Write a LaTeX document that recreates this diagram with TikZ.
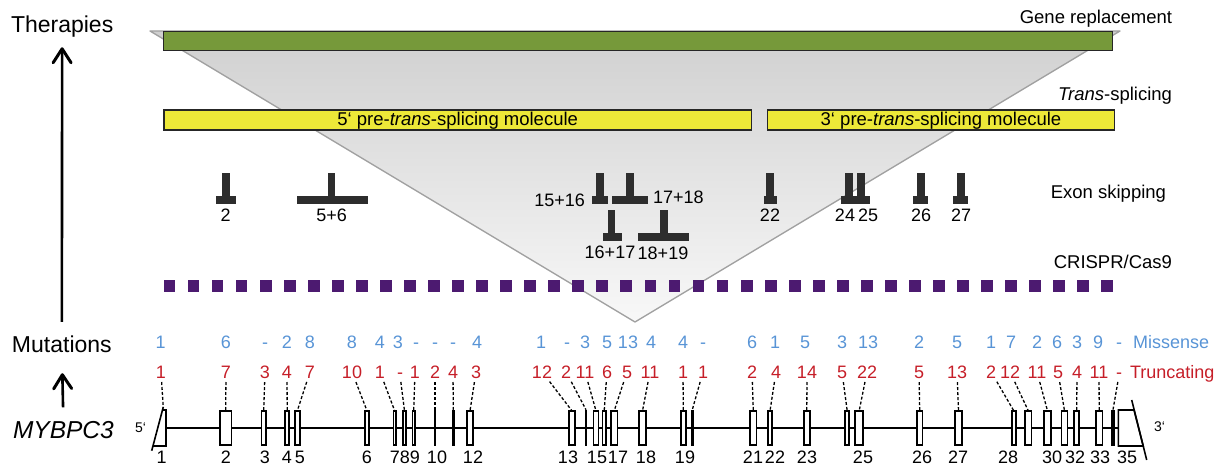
\documentclass[tikz,border=0pt]{standalone}
\usepackage{fontspec}
\setmainfont{Liberation Sans}
\usetikzlibrary{arrows.meta}

\definecolor{genegreen}{RGB}{118,153,58}
\definecolor{psmyellow}{RGB}{237,232,56}
\definecolor{missblue}{RGB}{88,148,214}
\definecolor{truncred}{RGB}{198,30,40}
\definecolor{crisprpurple}{RGB}{76,26,112}
\definecolor{skipgray}{RGB}{45,45,45}
\definecolor{funneledge}{RGB}{160,160,160}
\definecolor{funneltop}{RGB}{208,208,208}
\definecolor{funnelbottom}{RGB}{248,248,248}

\begin{document}
\begin{tikzpicture}[x=1pt,y=-1pt,
  every node/.style={inner sep=0pt, outer sep=0pt},
  big/.style={font=\fontsize{23}{26}\selectfont, anchor=base west},
  gene/.style={font=\fontsize{24.5}{27}\selectfont\itshape, anchor=base west},
  side/.style={font=\fontsize{18.5}{21}\selectfont, anchor=base east},
  num/.style={font=\fontsize{18}{20}\selectfont, anchor=base, inner sep=2pt},
  skiplbl/.style={font=\fontsize{18}{20}\selectfont, anchor=base},
  endlbl/.style={font=\fontsize{14}{16}\selectfont, anchor=base west},
  bar/.style={draw=black!85, line width=1.3pt, inner sep=0pt,
    font=\fontsize{18.5}{21}\selectfont, text height=13.5pt, text depth=1.5pt},
  exon/.style={draw=black, line width=1.7pt, fill=white, minimum height=34.3},
  exline/.style={fill=black, minimum width=2.8, minimum height=36.5},
  conn/.style={black, line width=1.3pt, dash pattern=on 3pt off 2pt, shorten <=2pt},
  uparrow/.style={black, line width=2.6pt,
    -{Straight Barb[length=14pt,width=18pt,line width=3pt,round]}},
  genebody/.style={black, line width=1.6pt},
]
\useasboundingbox (0,0) rectangle (1226,465);

% funnel of therapeutic scope
\shade[top color=funneltop, bottom color=funnelbottom]
  (150,31) -- (1120,31) -- (635,322) -- cycle;
\draw[funneledge, line width=1.3pt, line join=round]
  (150,31) -- (1120,31) -- (635,322) -- cycle;

% left axis labels
\node[big] (ther) at (11,32.5) {Therapies};
\node[big] (mut) at (12,352) {Mutations};
\node[gene] (myb) at (13,438.3) {MYBPC3};
\draw[uparrow, shorten <=13.5pt, shorten >=10pt] (mut.north) -- (ther.south);
\draw[uparrow, shorten <=13.8pt, shorten >=21pt] (myb.north) -- (mut.south);

% gene replacement
\node[bar, fill=genegreen, minimum width=948.8, minimum height=18.8] (repl) at (638.2,41) {};
\node[side] (repllbl) at (1172,23.5) {Gene replacement};

% trans-splicing
\node[bar, fill=psmyellow, minimum width=587.5, minimum height=20.2] (pre5) at (457.7,120)
  {5‘ pre-\textit{trans}-splicing molecule};
\node[bar, fill=psmyellow, minimum width=346.8, minimum height=20.2] (pre3) at (941,120)
  {3‘ pre-\textit{trans}-splicing molecule};
\node[side] (translbl) at (1172,100.7) {\textit{Trans}-splicing};

% exon skipping: stem x / bar left / bar right / top y
\foreach \sx/\bl/\br/\ty in {226/216/235.7/172.7, 331.5/296.7/368/172.7,
    600/591.7/607.7/172.7, 630/611.7/648/172.7, 611.5/602.7/621.7/210,
    664/638/689/210, 770/764/777/172.7, 849/840.7/855/172.7,
    861/855/870/172.7, 921/913/928/172.7, 961/952.7/967.7/172.7}{
  \fill[skipgray] (\sx-3.7,\ty) rectangle (\sx+3.7,\ty+24);
  \fill[skipgray] (\bl,\ty+23.3) rectangle (\br,\ty+31.3);
}
\node[skiplbl] (s2) at (225.7,221.7) {2};
\node[skiplbl] (s56) at (331.7,221.7) {5+6};
\node[skiplbl, anchor=base east] (s1516) at (585,206.5) {15+16};
\node[skiplbl, anchor=base west] (s1718) at (653,203.5) {17+18};
\node[skiplbl] (s1617) at (610,258.5) {16+17};
\node[skiplbl] (s1819) at (663,259) {18+19};
\node[skiplbl] (s22) at (770,221.7) {22};
\node[skiplbl] (s24) at (845,221.7) {24};
\node[skiplbl] (s25) at (868,221.7) {25};
\node[skiplbl] (s26) at (921,221.7) {26};
\node[skiplbl] (s27) at (961,221.7) {27};
\node[side] (skiplbl) at (1166,198.3) {Exon skipping};

% CRISPR/Cas9
\foreach \k in {0,...,39}
  \fill[crisprpurple] (163.5+\k*24.05,280.3) rectangle ++(11.8,11.6);
\node[side] (crisprlbl) at (1172,268) {CRISPR/Cas9};

% missense counts per exon
\foreach \x/\lab [count=\i] in {160.7/1, 226/6, 265/-, 287/2, 310/8, 352/8, 380/4,
    398/3, 416/-, 435/-, 453/-, 477/4, 541/1, 567/-, 585/3, 607/5, 628/13, 651/4,
    683/4, 703/-, 752/6, 775/1, 805/5, 842/3, 868/13, 919/2, 957/5, 991/1, 1011/7,
    1037/2, 1057/6, 1077/3, 1098/9, 1119/-}
  \node[num, text=missblue] (m\i) at (\x,348) {\lab};
\node[font=\fontsize{18}{20}\selectfont, anchor=base west, text=missblue] (misslbl)
  at (1133,348) {Missense};

% truncating counts per exon
\foreach \x/\lab [count=\i] in {161/1, 226/7, 265/3, 287/4, 310/7, 352/10, 380/1,
    400/-, 415/1, 435/2, 453/4, 476/3, 542/12, 566/2, 585/11, 607/6, 627/5, 650/11,
    683/1, 703/1, 752/2, 776/4, 807/14, 842/5, 867/22, 919/5, 957/13, 991/2, 1010/12,
    1037/11, 1058/5, 1077/4, 1099/11, 1119/-}
  \node[num, text=truncred] (t\i) at (\x,378) {\lab};
\node[font=\fontsize{18}{20}\selectfont, anchor=base west, text=truncred] (trunclbl)
  at (1130,378) {Truncating};

% MYBPC3 gene body
\coordinate (g5) at (165.7,428);
\coordinate (g3) at (1118.3,428);
\draw[genebody] (g5) -- (g3);

% exon 1 (5' end)
\draw[genebody, fill=white, line join=miter]
  (162.5,410) -- (165.7,410) -- (165.7,446) -- (152.9,446);
\draw[genebody] (163.3,407) -- (151.7,450.7);
\coordinate (e1top) at (163.3,408);

% exon 35 (3' end)
\draw[genebody, fill=white]
  (1118.3,410) -- (1134,410) -- (1143.2,446) -- (1118.3,446) -- cycle;
\draw[genebody] (1131.7,400) -- (1146.7,460);

% coding exons
\foreach \n/\x/\w in {2/225.7/11.6, 3/263.7/4.3, 4/287.2/4.0, 5/297.3/5.0,
    6/367/4.3, 7/394.7/2.3, 8/404.5/2.7, 9/413.7/2.3, 12/470/6.3, 13/572/5.7,
    15/596/4.9, 16/604.2/3.3, 17/614.2/6.6, 18/642.5/6.7, 19/683.3/5.0,
    21/753.3/6.3, 22/770/3.7, 23/806.8/6.0, 24/847.2/4.0, 25/859.2/8.0,
    26/919.7/5.6, 27/958.5/6.7, 28/1013.8/4.0, 29/1028.3/6.3, 30/1047.5/6.7,
    31/1064.5/5.9, 32/1076.7/5.0, 33/1099.2/6.6}
  \node[exon, minimum width=\w] (e\n) at (\x,428) {};
\foreach \n/\x in {10/435, 11/453.3, 14/586, 20/692.3}
  \node[exline] (e\n) at (\x,428) {};
\node[exline, minimum width=4.4] (e34) at (1113,428) {};

% exon numbers
\foreach \x/\lab [count=\i] in {161.7/1, 226/2, 265/3, 287/4, 300/5, 367/6, 395/7,
    405/8, 415/9, 437/10, 473/12, 568/13, 597/15, 618/17, 646/18, 685/19, 753/21,
    775/22, 807/23, 863/25, 922/26, 958/27, 1008/28, 1052/30, 1075/32, 1100/33,
    1127/35}
  \node[num, inner sep=0pt] (el\i) at (\x,463.5) {\lab};
\node[endlbl] (five) at (135,432.5) {5‘};
\node[endlbl] (three) at (1154,431) {3‘};

% truncating counts to exons
\draw[conn] (t1) -- (e1top);
\foreach \i in {2,...,34}
  \draw[conn] (t\i) -- (e\i.north);
\end{tikzpicture}
\end{document}
